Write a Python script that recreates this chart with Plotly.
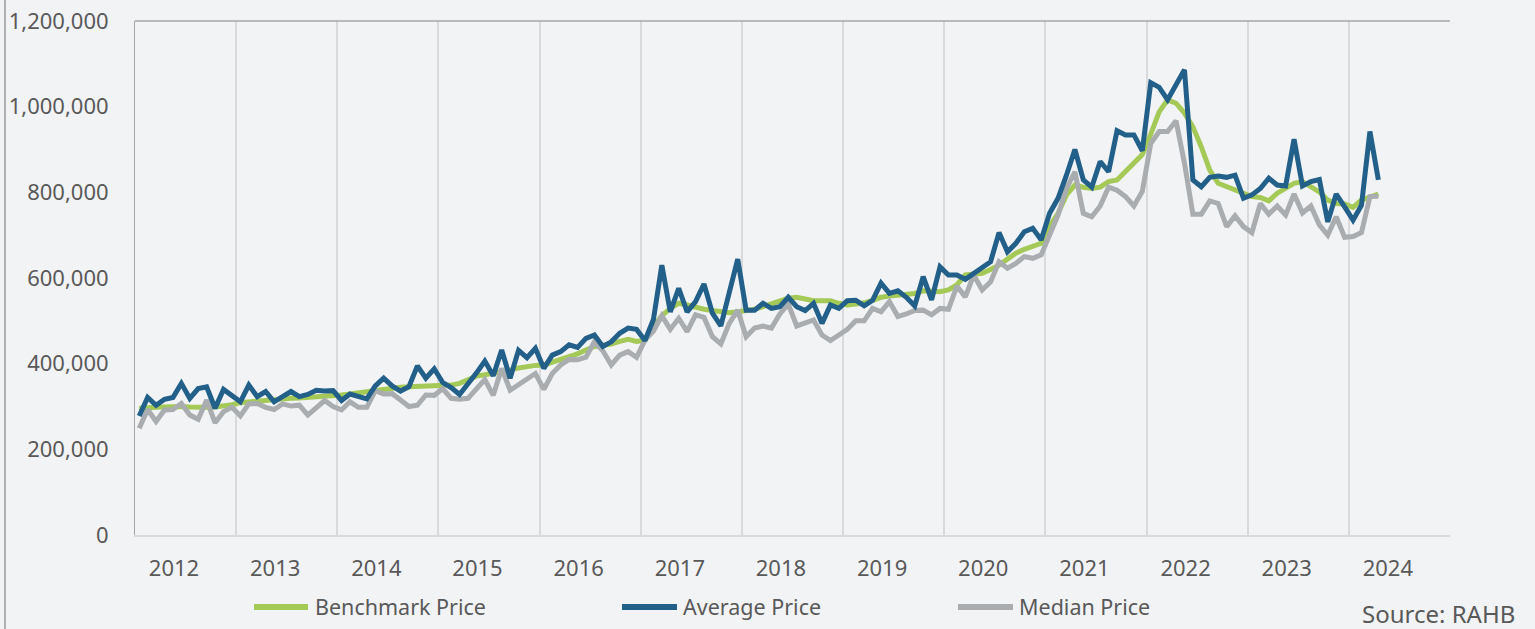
import plotly.graph_objects as go
import pandas as pd

# Monthly categories Jan 2012 .. Apr 2024
months = pd.date_range("2012-01-01", "2024-04-01", freq="MS").strftime("%Y-%m").tolist()
year_labels = [str(y) for y in range(2012, 2025)]

# values in thousands of dollars
benchmark_k = [296, 298, 298, 299, 300, 300, 299, 298, 298, 299, 301, 304,
               309, 311, 313, 315, 317, 318, 319, 320, 321, 323, 325, 326,
               327, 329, 332, 335, 338, 341, 343, 345, 346, 347, 348, 348,
               348, 350, 354, 362, 371, 374, 377, 381, 385, 390, 394, 396,
               397, 403, 409, 416, 423, 432, 440, 443, 446, 452, 457, 452,
               455, 486, 512, 529, 541, 537, 531, 527, 524, 521, 519, 521,
               524, 527, 533, 539, 545, 553, 555, 550, 547, 547, 547, 541,
               537, 539, 542, 548, 555, 558, 560, 560, 564, 570, 570, 568,
               572, 584, 607, 608, 611, 620, 630, 644, 658, 667, 673, 681,
               720, 751, 794, 817, 812, 809, 812, 825, 829, 848, 869, 888,
               936, 988, 1016, 1008, 985, 953, 906, 852, 821, 813, 805, 796,
               790, 788, 780, 798, 809, 821, 825, 813, 801, 782, 774, 773,
               765, 782, 790, 796]
average_k = [278, 321, 303, 317, 321, 354, 319, 342, 346, 296, 340, 327,
             311, 350, 323, 335, 311, 323, 335, 323, 328, 338, 336, 337,
             314, 329, 323, 318, 348, 366, 348, 336, 346, 395, 366, 388,
             356, 344, 328, 352, 378, 406, 372, 432, 366, 431, 414, 436,
             389, 420, 428, 444, 438, 459, 467, 440, 451, 471, 483, 480,
             454, 503, 630, 521, 576, 521, 545, 586, 518, 488, 566, 644,
             525, 525, 541, 529, 533, 555, 533, 524, 541, 494, 537, 529,
             547, 548, 535, 548, 588, 564, 570, 555, 535, 603, 549, 626,
             607, 607, 597, 611, 623, 638, 706, 661, 681, 708, 716, 689,
             751, 786, 840, 900, 829, 812, 872, 848, 944, 934, 934, 897,
             1056, 1045, 1016, 1051, 1086, 829, 813, 835, 838, 835, 840, 786,
             794, 809, 833, 817, 815, 924, 815, 825, 830, 731, 796, 766,
             735, 770, 942, 829]
median_k = [249, 293, 265, 292, 293, 307, 280, 270, 315, 262, 288, 298,
            278, 306, 307, 298, 293, 306, 301, 303, 280, 298, 314, 300,
            292, 311, 298, 298, 337, 329, 330, 315, 300, 303, 327, 326,
            342, 319, 317, 319, 342, 363, 326, 389, 338, 350, 362, 377,
            340, 377, 397, 410, 409, 415, 451, 430, 397, 420, 428, 415,
            455, 476, 512, 480, 506, 475, 514, 508, 463, 446, 494, 525,
            463, 483, 488, 483, 516, 539, 488, 494, 502, 467, 454, 467,
            480, 500, 500, 529, 521, 545, 510, 516, 524, 525, 514, 529,
            527, 581, 556, 607, 572, 591, 638, 623, 634, 650, 646, 654,
            700, 747, 809, 848, 751, 743, 768, 812, 805, 790, 768, 802,
            914, 942, 942, 967, 868, 749, 749, 780, 774, 720, 745, 720,
            706, 774, 749, 768, 747, 796, 752, 768, 724, 700, 743, 695,
            697, 706, 790, 791]

benchmark = [v * 1000 for v in benchmark_k]
average = [v * 1000 for v in average_k]
median = [v * 1000 for v in median_k]

GREEN = "#a5c957"
BLUE = "#226089"
GRAY = "#a9adb0"
TEXT = "#595959"
BG = "#f2f3f5"
FONT = "Noto Sans"

W, H = 1535, 629
L, R, T, B = 135, 85, 21, 94
PW, PH = W - L - R, H - T - B

def px(x):
    return (x - L) / PW

def py(y):
    return (H - B - y) / PH

idx = list(range(len(months)))

fig = go.Figure()
fig.add_trace(go.Scatter(x=idx, y=benchmark, mode="lines", name="Benchmark Price",
                         line=dict(color=GREEN, width=5), customdata=months,
                         hovertemplate="%{customdata}: %{y:,}<extra>Benchmark</extra>"))
fig.add_trace(go.Scatter(x=idx, y=median, mode="lines", name="Median Price",
                         line=dict(color=GRAY, width=5), customdata=months,
                         hovertemplate="%{customdata}: %{y:,}<extra>Median</extra>"))
fig.add_trace(go.Scatter(x=idx, y=average, mode="lines", name="Average Price",
                         line=dict(color=BLUE, width=5), customdata=months,
                         hovertemplate="%{customdata}: %{y:,}<extra>Average</extra>"))

n_years = len(year_labels)
label_pos = [4.13 + 12 * k for k in range(n_years)]
grid_pos = [11.5 + 12 * k for k in range(n_years)]

fig.update_xaxes(range=[-0.5, 12 * n_years - 0.5], tickmode="array",
                 tickvals=label_pos, ticktext=year_labels, showgrid=False,
                 zeroline=False, showline=True, linecolor="#d9d9d9", linewidth=2,
                 ticks="", ticklabelstandoff=13, automargin=False,
                 tickfont=dict(family=FONT, size=22, color=TEXT),
                 minor=dict(tickmode="array", tickvals=grid_pos, showgrid=True,
                            gridcolor="#d9dadc", gridwidth=2, ticks=""))
fig.update_yaxes(range=[0, 1200000], tickmode="array",
                 tickvals=[0, 200000, 400000, 600000, 800000, 1000000, 1200000],
                 tickformat=",", showgrid=False, zeroline=False,
                 showline=True, linecolor="#a6a6a6", linewidth=1,
                 ticks="", ticklabelstandoff=21, automargin=False,
                 tickfont=dict(family=FONT, size=22, color=TEXT))

shapes = [
    # top border of plot area
    dict(type="line", xref="paper", yref="paper", x0=0, x1=1, y0=1, y1=1,
         line=dict(color="#a6a6a6", width=1.5)),
    # outer frame line at left edge of image
    dict(type="line", xref="paper", yref="paper", x0=px(5), x1=px(5), y0=py(0), y1=py(629),
         line=dict(color="#b0b0b0", width=2)),
]
legend_items = [("Benchmark Price", GREEN, 254, 308, 313),
                ("Average Price", BLUE, 622, 677, 681),
                ("Median Price", GRAY, 958, 1013, 1017)]
annotations = []
ly = 607
for name, col, x0, x1, tx in legend_items:
    shapes.append(dict(type="line", xref="paper", yref="paper", x0=px(x0), x1=px(x1),
                       y0=py(ly), y1=py(ly), line=dict(color=col, width=6)))
    annotations.append(dict(xref="paper", yref="paper", x=px(tx), y=py(ly - 1), text=name,
                            showarrow=False, xanchor="left", yanchor="middle",
                            font=dict(family=FONT, size=21.5, color=TEXT)))
annotations.append(dict(xref="paper", yref="paper", x=px(1517), y=py(613), text="Source: RAHB",
                        showarrow=False, xanchor="right", yanchor="middle",
                        font=dict(family=FONT, size=24, color=TEXT)))

fig.update_layout(width=W, height=H, margin=dict(l=L, r=R, t=T, b=B, autoexpand=False),
                  paper_bgcolor=BG, plot_bgcolor=BG, showlegend=False,
                  shapes=shapes, annotations=annotations,
                  font=dict(family=FONT, color=TEXT))

fig.write_html("out.html", config={"displayModeBar": False},
               post_script="document.body.style.margin='0';"
                           "document.body.style.background='" + BG + "';")
